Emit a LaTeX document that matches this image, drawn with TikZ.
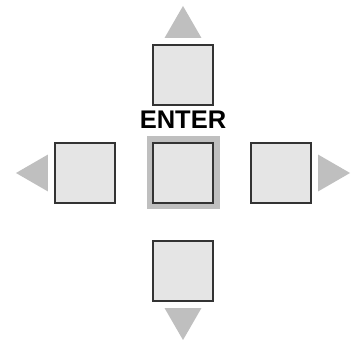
\documentclass[tikz,border=0pt]{standalone}
\usepackage{fontspec}
\newfontfamily\keyfont{Liberation Sans}
\usepackage{tikz}
\usetikzlibrary{positioning,shapes.geometric}
\definecolor{keyfill}{gray}{0.9}
\definecolor{keyline}{gray}{0.2}
\definecolor{arrowgray}{gray}{0.75}

\begin{document}
\begin{tikzpicture}
  [
    every node/.style={inner sep=0pt, outer sep=0pt},
    key/.style={draw=keyline, fill=keyfill, line width=1.2pt, minimum size=60pt},
    enterkey/.style={key, preaction={draw=arrowgray, line width=13pt}},
    tri/.style={fill=arrowgray, regular polygon, regular polygon sides=3, minimum size=42.7pt},
    node distance=38pt
  ]

  % Rahmen
  \useasboundingbox (0,0) rectangle (351pt,340pt);

  % Tasten
  \node[enterkey] (enter) at (183pt,167pt) {};
  \node[key, above=of enter] (up) {};
  \node[key, below=of enter] (down) {};
  \node[key, left=of enter] (left) {};
  \node[key, right=of enter] (right) {};

  \node[font=\keyfont\bfseries\fontsize{25.5pt}{30pt}\selectfont,
        above=14.7pt of enter] (label) {ENTER};

  % Pfeile
  \node[tri, above=7pt of up] (uparrow) {};
  \node[tri, shape border rotate=180, below=7pt of down] (downarrow) {};
  \node[tri, shape border rotate=90, left=7pt of left] (leftarrow) {};
  \node[tri, shape border rotate=270, right=7pt of right] (rightarrow) {};
\end{tikzpicture}
\end{document}
